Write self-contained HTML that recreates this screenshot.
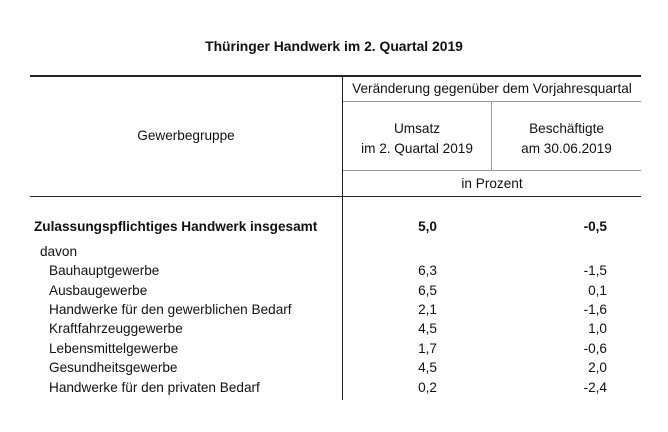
<!DOCTYPE html>
<html><head><meta charset="utf-8"><style>
body{margin:0;width:668px;height:432px;background:#fff;font-family:"Liberation Sans",sans-serif;color:#111;position:relative;overflow:hidden}
.t{position:absolute;white-space:nowrap;font-size:13.6px;letter-spacing:0}
.r{text-align:right}
.c{text-align:center}
.l{position:absolute;background:#222}
.g{position:absolute;background:#999}
</style></head><body>
<div class="t c" style="left:0;width:668px;top:38px;font-weight:bold;font-size:13.9px">Thüringer Handwerk im 2. Quartal 2019</div>
<div class="l" style="left:30px;width:611px;top:75px;height:2px"></div>
<div class="l" style="left:342px;width:1px;top:76px;height:324px"></div>
<div class="g" style="left:343px;width:298px;top:101px;height:1px"></div>
<div class="g" style="left:491px;width:1px;top:102px;height:68px"></div>
<div class="g" style="left:343px;width:298px;top:170px;height:1px"></div>
<div class="l" style="left:30px;width:611px;top:196px;height:1px"></div>
<div class="t c" style="left:343px;width:298px;top:81px">Veränderung gegenüber dem Vorjahresquartal</div>
<div class="t c" style="left:30px;width:312px;top:128px">Gewerbegruppe</div>
<div class="t c" style="left:343px;width:148px;top:119px;line-height:20px">Umsatz<br>im 2. Quartal 2019</div>
<div class="t c" style="left:492px;width:149px;top:119px;line-height:20px">Beschäftigte<br>am 30.06.2019</div>
<div class="t c" style="left:343px;width:298px;top:176px">in Prozent</div>
<div class="t" style="left:34px;top:219px;font-weight:bold">Zulassungspflichtiges Handwerk insgesamt</div>
<div class="t r" style="left:337px;width:100px;top:219px;font-weight:bold">5,0</div>
<div class="t r" style="left:507px;width:100px;top:219px;font-weight:bold">-0,5</div>
<div class="t" style="left:40px;top:244px">davon</div>
<div class="t" style="left:49px;top:263px">Bauhauptgewerbe</div><div class="t r" style="left:337px;width:100px;top:263px">6,3</div><div class="t r" style="left:507px;width:100px;top:263px">-1,5</div>
<div class="t" style="left:49px;top:283px">Ausbaugewerbe</div><div class="t r" style="left:337px;width:100px;top:283px">6,5</div><div class="t r" style="left:507px;width:100px;top:283px">0,1</div>
<div class="t" style="left:49px;top:302px">Handwerke für den gewerblichen Bedarf</div><div class="t r" style="left:337px;width:100px;top:302px">2,1</div><div class="t r" style="left:507px;width:100px;top:302px">-1,6</div>
<div class="t" style="left:49px;top:321px">Kraftfahrzeuggewerbe</div><div class="t r" style="left:337px;width:100px;top:321px">4,5</div><div class="t r" style="left:507px;width:100px;top:321px">1,0</div>
<div class="t" style="left:49px;top:341px">Lebensmittelgewerbe</div><div class="t r" style="left:337px;width:100px;top:341px">1,7</div><div class="t r" style="left:507px;width:100px;top:341px">-0,6</div>
<div class="t" style="left:49px;top:360px">Gesundheitsgewerbe</div><div class="t r" style="left:337px;width:100px;top:360px">4,5</div><div class="t r" style="left:507px;width:100px;top:360px">2,0</div>
<div class="t" style="left:49px;top:380px">Handwerke für den privaten Bedarf</div><div class="t r" style="left:337px;width:100px;top:380px">0,2</div><div class="t r" style="left:507px;width:100px;top:380px">-2,4</div>
</body></html>
